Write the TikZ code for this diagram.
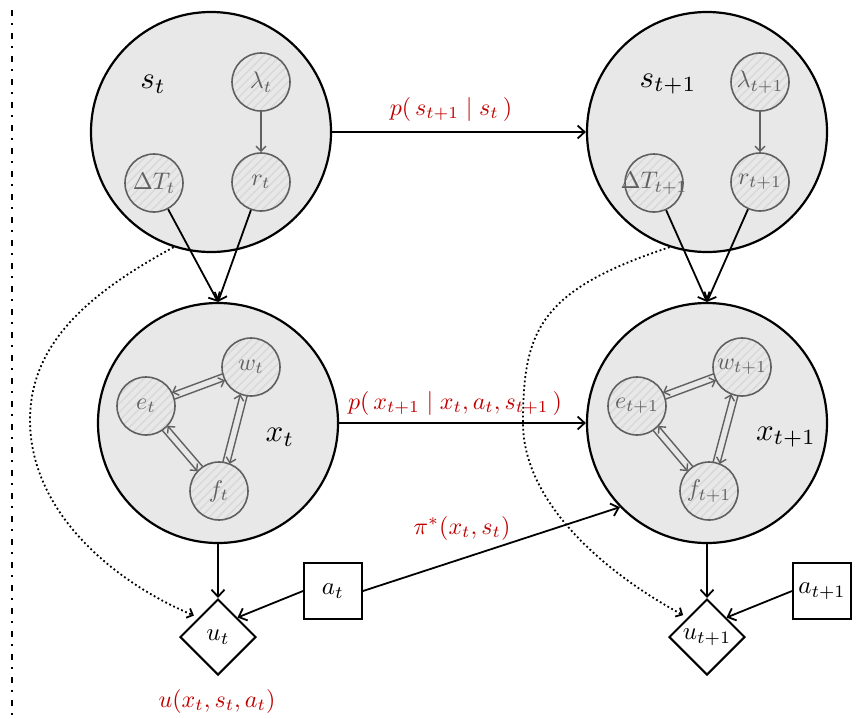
\documentclass[tikz,border=0pt]{standalone}
\usepackage{graphicx}
\usetikzlibrary{arrows.meta,shapes.geometric,patterns.meta,calc}
\definecolor{redlbl}{HTML}{C00000}
\definecolor{nodegray}{HTML}{606060}
\definecolor{bigfill}{HTML}{E8E8E8}
\newcommand{\onearrow}[4]{\draw[garr] ($(#1)!3.5pt!#3:(#2)$) -- ($(#2)!3.5pt!#4:(#1)$);}
\newcommand{\mainlbl}[1]{\scalebox{3.1}{$#1$}}
\newcommand{\smalllbl}[1]{\makebox[0pt]{\scalebox{2.4}{$#1$}}}
\newcommand{\boxlbl}[1]{\scalebox{2.5}{$#1$}}
\newcommand{\redtext}[1]{\scalebox{2.4}{$#1$}}
\begin{document}
\begin{tikzpicture}[x=1pt,y=-1pt,
  big/.style={circle, draw=black, line width=2.2pt, fill=bigfill, minimum size=240pt, inner sep=0pt},
  small/.style={circle, draw=nodegray, line width=1.6pt, minimum size=58pt, inner sep=0pt,
     preaction={fill=bigfill}, pattern={Lines[angle=45,distance=6pt,line width=1.5pt]},
     pattern color=black!15, text=nodegray},
  biglbl/.style={inner sep=0pt},
  redtxt/.style={text=redlbl, inner sep=0pt},
  util/.style={diamond, draw=black, line width=2pt, fill=white, minimum size=76pt, inner sep=0pt},
  act/.style={rectangle, draw=black, line width=2pt, fill=white, minimum width=58pt, minimum height=56pt, inner sep=0pt},
  arr/.style={draw=black, line width=1.8pt, -{Straight Barb[length=7pt,width=13pt]}},
  garr/.style={draw=nodegray, line width=1.4pt, -{Straight Barb[length=5pt,width=10pt]}, shorten <=29pt, shorten >=29pt},
  dotarr/.style={draw=black, line width=1.8pt, dash pattern=on 1.8pt off 2.6pt, -{Straight Barb[length=5pt,width=10pt]}}
]
\useasboundingbox (0,0) rectangle (866,718);
% separator
\draw[line width=2.6pt, dash pattern=on 6pt off 7pt on 2pt off 8pt] (12,10) -- (12,718);

% ---- time t ----
\node[big] (st) at (211,132) {};
\node[biglbl] (stlbl) at (153,84) {\mainlbl{s_t}};
\node[small] (lamt) at (261,82) {\smalllbl{\lambda_t}};
\node[small] (rt) at (261,182) {\smalllbl{r_t}};
\node[small] (dTt) at (154,183) {\smalllbl{\Delta T_t}};

\node[big] (xt) at (218,423) {};
\node[biglbl] (xtlbl) at (280,437) {\mainlbl{x_t}};
\node[small] (wt) at (251,367) {\smalllbl{w_t}};
\node[small] (et) at (146,406) {\smalllbl{e_t}};
\node[small] (ft) at (219,491) {\smalllbl{f_t}};

\node[util] (ut) at (218,637) {\boxlbl{u_t}};
\node[act] (at) at (333,591) {\boxlbl{a_t}};

% ---- time t+1 ----
\node[big] (st1) at (707,132) {};
\node[biglbl] (st1lbl) at (668,84) {\mainlbl{s_{t+1}}};
\node[small] (lam1) at (760,82) {\smalllbl{\lambda_{t+1}}};
\node[small] (r1) at (760,182) {\smalllbl{r_{t+1}}};
\node[small] (dT1) at (654,183) {\smalllbl{\Delta T_{t+1}}};

\node[big] (xt1) at (707,423) {};
\node[biglbl] (xt1lbl) at (786,437) {\mainlbl{x_{t+1}}};
\node[small] (w1) at (742,367) {\smalllbl{w_{t+1}}};
\node[small] (e1) at (637,406) {\smalllbl{e_{t+1}}};
\node[small] (f1) at (709,491) {\smalllbl{f_{t+1}}};

\node[util] (ut1) at (707,637) {\boxlbl{u_{t+1}}};
\node[act] (at1) at (822,591) {\boxlbl{a_{t+1}}};

% ---- red labels ----
\node[redtxt] (lps) at (451,109) {\redtext{p(\,s_{t+1}\mid s_t\,)}};
\node[redtxt] (lpx) at (455,403) {\redtext{p(\,x_{t+1}\mid x_t, a_t, s_{t+1}\,)}};
\node[redtxt] (lpi) at (462,528) {\redtext{\pi^*(x_t,s_t)}};
\node[redtxt] (lu) at (217,701) {\redtext{u(x_t,s_t,a_t)}};

% ---- inner arrows ----
\draw[garr, shorten <=0pt, shorten >=0pt] (lamt) -- (rt);
\draw[garr, shorten <=0pt, shorten >=0pt] (lam1) -- (r1);
\onearrow{et}{wt}{-90}{90}
\onearrow{wt}{et}{-90}{90}
\onearrow{et}{ft}{-90}{90}
\onearrow{ft}{et}{-90}{90}
\onearrow{ft}{wt}{90}{-90}
\onearrow{wt}{ft}{90}{-90}
\onearrow{e1}{w1}{-90}{90}
\onearrow{w1}{e1}{-90}{90}
\onearrow{e1}{f1}{-90}{90}
\onearrow{f1}{e1}{-90}{90}
\onearrow{f1}{w1}{90}{-90}
\onearrow{w1}{f1}{90}{-90}

% ---- main arrows ----
\draw[arr] (st.east) -- (st1.west);
\draw[arr] (xt.east) -- (xt1.west);
\draw[arr] (dTt) -- (xt.north);
\draw[arr] (rt) -- (xt.north);
\draw[arr] (dT1) -- (xt1.north);
\draw[arr] (r1) -- (xt1.north);
\draw[arr] (xt.south) -- (ut.north);
\draw[arr] (xt1.south) -- (ut1.north);
\draw[arr] (at.west) -- (ut.north east);
\draw[arr] (at1.west) -- (ut1.north east);
\draw[arr] (at.east) -- (xt1.224);

% ---- dotted ----
\draw[dotarr, shorten >=5pt] (st.252) .. controls (95,290) and (30,340) .. (30,420)
   .. controls (30,510) and (110,580) .. (ut.north west);
\draw[dotarr, shorten >=5pt] (st1.252) .. controls (540,290) and (523,330) .. (523,423)
   .. controls (523,500) and (600,570) .. (ut1.north west);
\end{tikzpicture}
\end{document}
